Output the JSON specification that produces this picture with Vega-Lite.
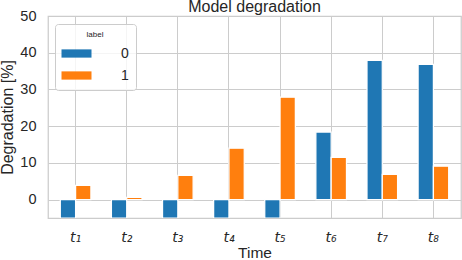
{
  "$schema": "https://vega.github.io/schema/vega-lite/v6.json",
  "width": 413,
  "height": 202,
  "autosize": {"type": "none"},
  "padding": {"left": 48, "top": 16, "right": 1, "bottom": 42},
  "background": "white",
  "title": {"text": "Model degradation", "fontSize": 16, "font": "Liberation Sans", "fontWeight": "normal", "color": "#262626", "anchor": "middle", "offset": -7},
  "data": {"values": [
    {"time": "t₁", "label": "0", "value": -5},
    {"time": "t₁", "label": "1", "value": 3.9},
    {"time": "t₂", "label": "0", "value": -5},
    {"time": "t₂", "label": "1", "value": 0.6},
    {"time": "t₃", "label": "0", "value": -5},
    {"time": "t₃", "label": "1", "value": 6.6},
    {"time": "t₄", "label": "0", "value": -5},
    {"time": "t₄", "label": "1", "value": 14.0},
    {"time": "t₅", "label": "0", "value": -5},
    {"time": "t₅", "label": "1", "value": 27.9},
    {"time": "t₆", "label": "0", "value": 18.4},
    {"time": "t₆", "label": "1", "value": 11.5},
    {"time": "t₇", "label": "0", "value": 37.9},
    {"time": "t₇", "label": "1", "value": 6.9},
    {"time": "t₈", "label": "0", "value": 36.8},
    {"time": "t₈", "label": "1", "value": 9.1}
  ]},
  "mark": {"type": "bar", "stroke": "white", "strokeWidth": 1.25, "clip": true},
  "encoding": {
    "x": {
      "field": "time", "type": "nominal", "sort": null,
      "scale": {"paddingInner": 0, "paddingOuter": 0.04},
      "axis": {
        "title": "Time", "labelAngle": 0, "grid": true, "bandPosition": 0.5,
        "gridColor": "#cccccc", "gridWidth": 1, "domain": false, "ticks": false,
        "labelPadding": 12, "labelFontSize": 14, "labelFont": "DejaVu Sans", "labelFontStyle": "italic",
        "labelColor": "#262626", "titleFontSize": 15.5, "titleFont": "Liberation Sans",
        "titleFontWeight": "normal", "titleColor": "#262626", "titlePadding": 1
      }
    },
    "xOffset": {"field": "label", "type": "nominal", "scale": {"paddingInner": 0, "paddingOuter": 0.67}},
    "y": {
      "field": "value", "type": "quantitative",
      "scale": {"domain": [-5, 50], "nice": false, "zero": false},
      "axis": {
        "title": "Degradation [%]", "values": [0, 10, 20, 30, 40, 50], "grid": true,
        "gridColor": "#cccccc", "gridWidth": 1, "domain": false, "ticks": false,
        "labelPadding": 12, "labelFontSize": 14.5, "labelFont": "Liberation Sans", "labelColor": "#262626",
        "titleFontSize": 16, "titleFont": "Liberation Sans", "titleFontWeight": "normal",
        "titleColor": "#262626", "titlePadding": 4
      }
    },
    "color": {
      "field": "label", "type": "nominal",
      "scale": {"domain": ["0", "1"], "range": ["#1f77b4", "#ff7f0e"]},
      "legend": {
        "title": "label", "orient": "none", "legendX": 7, "legendY": 8,
        "titleFontSize": 8, "titleFont": "Liberation Sans", "titleFontWeight": "normal", "titleColor": "#262626",
        "titleAnchor": "middle", "titlePadding": 7,
        "labelFontSize": 14, "labelFont": "Liberation Sans", "labelColor": "#262626", "labelOffset": 37,
        "labelExpr": "datum.label + '\u00a0\u00a0'",
        "symbolType": "M-2,-0.55H2V0.55H-2Z", "symbolSize": 225, "symbolStrokeWidth": 0, "symbolOffset": 7,
        "rowPadding": 7, "padding": 7, "cornerRadius": 3,
        "strokeColor": "#cccccc", "fillColor": "rgba(255,255,255,0.8)"
      }
    }
  },
  "config": {"view": {"stroke": "#cccccc", "strokeWidth": 1.25}}
}
